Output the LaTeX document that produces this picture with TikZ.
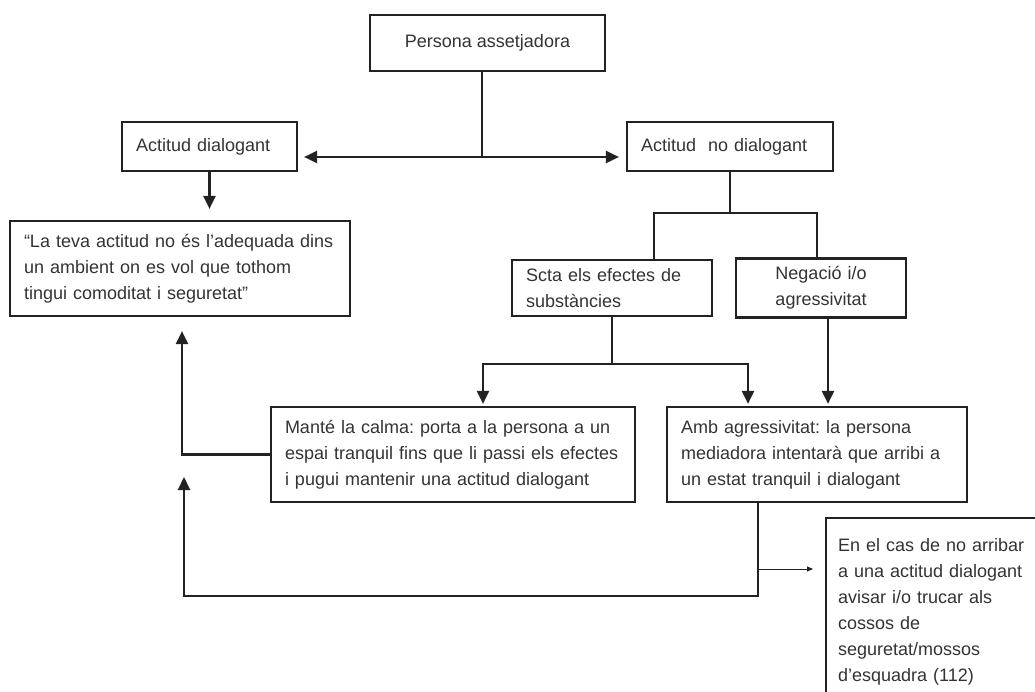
\documentclass[tikz,border=0pt]{standalone}
\usepackage{fontspec}
\setmainfont{Liberation Sans}
\frenchspacing
\usetikzlibrary{arrows.meta}
\definecolor{ink}{HTML}{222222}
\definecolor{txt}{HTML}{333333}
\begin{document}
\begin{tikzpicture}[x=1pt,y=-1pt,
    box/.style={draw=ink, line width=2.2pt, text=txt, font=\fontsize{18}{26}\selectfont, inner ysep=0pt},
    textbox/.style={box, align=left, inner xsep=14pt},
    link/.style={draw=ink, line width=2.2pt},
    arr/.style={link, -{Triangle[width=12pt,length=13pt]}},
    thinarr/.style={draw=ink, line width=1pt, -{Triangle[width=5pt,length=6pt]}}]
    \useasboundingbox (0,0) rectangle (1035,692);
    % boxes
    \node[box, minimum width=235pt, minimum height=56pt] (pers) at (487.5,43) {Persona assetjadora};
    \node[textbox, text width=147pt, minimum height=49pt] (dial) at (209.5,146.5) {Actitud dialogant};
    \node[textbox, text width=178pt, minimum height=49pt] (nodial) at (730,146.5) {Actitud \ no dialogant};
    \node[textbox, text width=312pt, minimum height=95pt] (quote) at (180,268.5)
        {“La teva actitud no és l’adequada dins\\un ambient on es vol que tothom\\tingui comoditat i seguretat”};
    \node[textbox, text width=172pt, minimum height=56pt] (scta) at (612,288) {Scta els efectes de\\substàncies};
    \node[box, align=center, text width=142pt, inner xsep=14pt, minimum height=59pt] (neg) at (821,288) {Negació i/o\\agressivitat};
    \node[textbox, text width=336pt, minimum height=95pt] (mante) at (453,454.5)
        {Manté la calma: porta a la persona a un\\espai tranquil fins que li passi els efectes\\i pugui mantenir una actitud dialogant};
    \node[textbox, text width=272pt, minimum height=95pt] (amb) at (817,454.5)
        {Amb agressivitat: la persona\\mediadora intentarà que arribi a\\un estat tranquil i dialogant};
    \node[textbox, anchor=north west, text width=260pt, inner xsep=12pt, inner ysep=20pt] (encas) at (825,517)
        {En el cas de no arribar\\a una actitud dialogant\\avisar i/o trucar als\\cossos de\\seguretat/mossos\\d’esquadra (112)};
    % connectors
    \coordinate (jtop) at (482,157);
    \draw[link] (jtop |- pers.south) -- (jtop);
    \draw[arr, shorten >=6pt] (jtop) -- (dial.east |- jtop);
    \draw[arr, shorten >=7pt] (jtop) -- (nodial.west |- jtop);
    \draw[arr, shorten >=11pt] (dial.south) -- (dial.south |- quote.north);
    \draw[link] (nodial.south) -- ++(0,41) coordinate (jnd);
    \draw[link] ([xshift=42pt]scta.north) |- (jnd) -| ([xshift=-4pt]neg.north);
    \draw[link] (scta.south) -- ++(0,47) coordinate (jsc);
    \draw[arr, shorten >=2pt] (jsc) -| ([xshift=30pt]mante.north);
    \draw[arr, shorten >=2pt] (jsc) -| ([xshift=-69pt]amb.north);
    \draw[arr, shorten >=2pt] ([xshift=7pt]neg.south) -- ([xshift=7pt]neg.south |- amb.north);
    \draw[arr, shorten >=14pt] (mante.west) -| ([xshift=2pt]quote.south);
    \coordinate (ret) at (184,477);
    \draw[arr] ([xshift=-59pt]amb.south) -- ++(0,93) -| (ret);
    \coordinate (jcall) at (758,569);
    \draw[thinarr, shorten >=12pt] (jcall) -- (jcall -| encas.west);
\end{tikzpicture}
\end{document}
